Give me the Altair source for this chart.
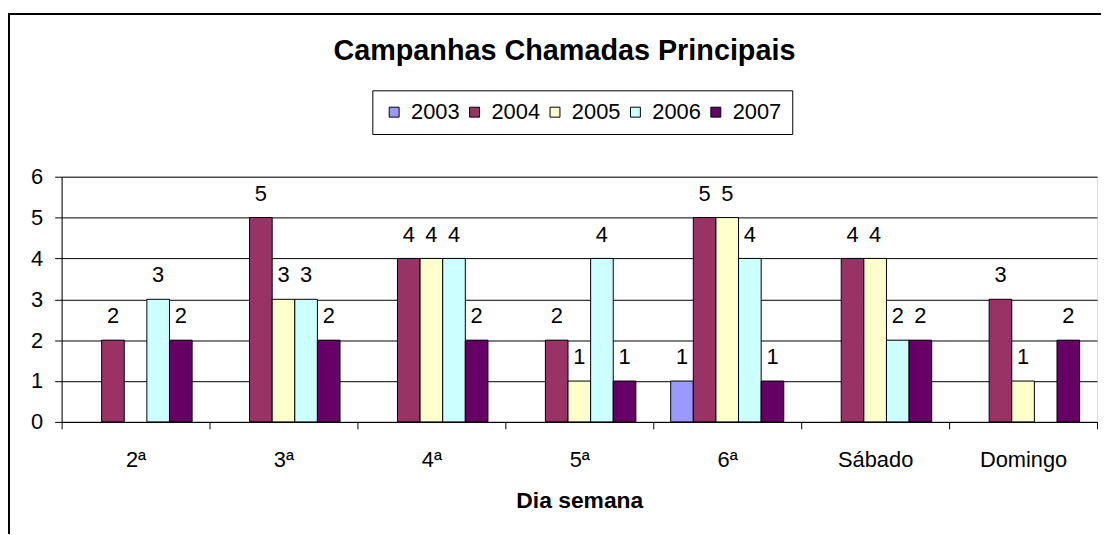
import altair as alt
import pandas as pd

days = ["2ª", "3ª", "4ª", "5ª", "6ª", "Sábado", "Domingo"]
years = ["2003", "2004", "2005", "2006", "2007"]
v2003 = [0, 0, 0, 0, 1, 0, 0]
v2004 = [2, 5, 4, 2, 5, 4, 3]
v2005 = [0, 3, 4, 1, 5, 4, 1]
v2006 = [3, 3, 4, 4, 4, 2, 0]
v2007 = [2, 2, 2, 1, 1, 2, 2]
colors = ["#9999FF", "#993366", "#FFFFCC", "#CCFFFF", "#660066"]
y_ticks = [0, 1, 2, 3, 4, 5, 6]

rows = []
for yr, vals in zip(years, [v2003, v2004, v2005, v2006, v2007]):
    for d, v in zip(days, vals):
        rows.append({"Dia": d, "Ano": yr, "Valor": v})
df = pd.DataFrame(rows)

FONT = "Liberation Sans"

x = alt.X(
    "Dia:N", sort=days,
    scale=alt.Scale(paddingInner=0, paddingOuter=0),
    axis=alt.Axis(
        title="Dia semana", tickBand="extent", labelAngle=0,
        domainColor="black", tickColor="black", tickSize=7,
        labelFont=FONT, labelFontSize=22, labelColor="black", labelPadding=21,
        titleFont=FONT, titleFontSize=23, titleFontWeight="bold", titleColor="black",
        titleY=86, titleBaseline="alphabetic", grid=False,
    ),
)
xo = alt.XOffset("Ano:N", sort=years, scale=alt.Scale(paddingInner=0, paddingOuter=0.77))
y = alt.Y(
    "Valor:Q",
    scale=alt.Scale(domain=[0, 6], nice=False),
    axis=alt.Axis(
        title=None, values=y_ticks, grid=True, gridColor="black", gridWidth=1,
        domainColor="black", tickColor="black", tickSize=7,
        labelFont=FONT, labelFontSize=22, labelColor="black", labelPadding=12,
    ),
)
color = alt.Color(
    "Ano:N", sort=years,
    scale=alt.Scale(domain=years, range=colors),
    legend=alt.Legend(
        title=None, orient="none", legendX=313, legendY=-87, direction="horizontal",
        symbolType="square", symbolSize=100, symbolStrokeColor="black", symbolStrokeWidth=1,
        labelFont=FONT, labelFontSize=22, labelColor="black", labelOffset=6,
        strokeColor="black", fillColor="white", padding=11, columnPadding=4,
    ),
)

bars = (
    alt.Chart(df)
    .transform_filter("datum.Valor > 0")
    .mark_bar(stroke="black", strokeWidth=1)
    .encode(x=x, xOffset=xo, y=y, color=color)
)
labels = (
    alt.Chart(df)
    .transform_filter("datum.Valor > 0")
    .mark_text(baseline="alphabetic", dy=-17, font=FONT, fontSize=22, color="black")
    .encode(x=x, xOffset=xo, y=y, text="Valor:Q")
)

one = pd.DataFrame({"k": [0]})
frame_left = alt.Chart(one).mark_rule(color="black", strokeWidth=2).encode(
    x=alt.value(-53), y=alt.value(-164), y2=alt.value(360)
)
frame_top = alt.Chart(one).mark_rule(color="black", strokeWidth=2).encode(
    x=alt.value(-54), x2=alt.value(1060), y=alt.value(-164)
)

chart = (
    alt.layer(frame_left, frame_top, bars, labels)
    .properties(
        width=1043, height=247,
        title=alt.TitleParams(
            "Campanhas Chamadas Principais", font=FONT, fontSize=29, fontWeight="bold",
            color="black", anchor="middle", dx=-15, offset=0, dy=53,
        ),
        autosize=alt.AutoSizeParams(type="none"),
        padding={"left": 54, "top": 168, "right": 4, "bottom": 112},
    )
    .configure_view(fill="#C0C0C0", stroke="#808080")
    .configure(background="white")
)

chart.save("out.html", embed_options={"renderer": "svg", "actions": False})
